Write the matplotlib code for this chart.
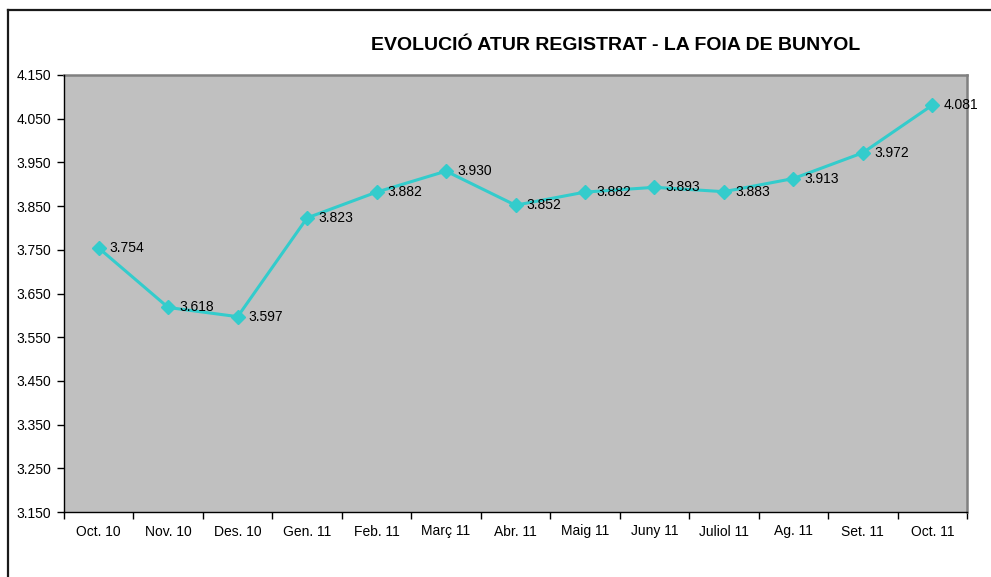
import matplotlib
matplotlib.use("Agg")
import matplotlib.pyplot as plt
from matplotlib.lines import Line2D
from matplotlib.ticker import FuncFormatter, FixedLocator, NullFormatter

MONTHS = ["Oct. 10", "Nov. 10", "Des. 10", "Gen. 11", "Feb. 11", "Març 11", "Abr. 11",
          "Maig 11", "Juny 11", "Juliol 11", "Ag. 11", "Set. 11", "Oct. 11"]
ATUR = [3754, 3618, 3597, 3823, 3882, 3930, 3852, 3882, 3893, 3883, 3913, 3972, 4081]
YTICKS = [3150, 3250, 3350, 3450, 3550, 3650, 3750, 3850, 3950, 4050, 4150]
TITLE = "EVOLUCIÓ ATUR REGISTRAT - LA FOIA DE BUNYOL"
LINE = "#33CCCC"

plt.rcParams["font.family"] = ["Liberation Sans", "DejaVu Sans"]


def _miles(v, pos=None):
    return f"{v:,.0f}".replace(",", ".")


W, H = 991, 577
fig = plt.figure(figsize=(W / 100, H / 100), dpi=100)
fig.patch.set_facecolor("white")
# marc del gràfic (només es veu a dalt i a l'esquerra)
top_y, left_x = 1 - 10 / H, 8 / W
fig.lines.append(Line2D([left_x, 1.05], [top_y, top_y], transform=fig.transFigure,
                        color="#1a1a1a", lw=1.6))
fig.lines.append(Line2D([left_x, left_x], [-0.05, top_y], transform=fig.transFigure,
                        color="#1a1a1a", lw=1.6))

ax = fig.add_axes([64 / W, 1 - 512 / H, (967 - 64) / W, (512 - 75) / H])
ax.set_facecolor("#C0C0C0")
x = list(range(len(MONTHS)))
ax.plot(x, ATUR, "-D", color=LINE, lw=2.2, ms=7, mec=LINE, mfc=LINE, zorder=3)
for xi, v in zip(x, ATUR):
    ax.annotate(_miles(v), (xi, v), xytext=(8, 0), textcoords="offset points",
                ha="left", va="center", fontsize=10, color="black", zorder=4, clip_on=False)

ax.set_xlim(-0.5, len(MONTHS) - 0.5)
ax.set_ylim(YTICKS[0], YTICKS[-1])
ax.set_yticks(YTICKS)
ax.yaxis.set_major_formatter(FuncFormatter(_miles))
ax.set_xticks(x)
ax.set_xticklabels(MONTHS)
ax.xaxis.set_minor_locator(FixedLocator([i - 0.5 for i in range(len(MONTHS) + 1)]))
ax.xaxis.set_minor_formatter(NullFormatter())
ax.tick_params(axis="x", which="major", length=0, pad=9, labelsize=10)
ax.tick_params(axis="x", which="minor", length=5, width=1, color="black")
ax.tick_params(axis="y", length=5, width=1, labelsize=10, pad=4)

for sp in ["top", "right"]:
    ax.spines[sp].set_color("#808080")
    ax.spines[sp].set_linewidth(1.8)
for sp in ["left", "bottom"]:
    ax.spines[sp].set_color("black")
    ax.spines[sp].set_linewidth(1)
    ax.spines[sp].set_zorder(5)

fig.text(616 / W, 1 - 45 / H, TITLE, ha="center", va="center", fontsize=14, fontweight="bold")

fig.savefig("out.png", dpi=100, facecolor="white")
